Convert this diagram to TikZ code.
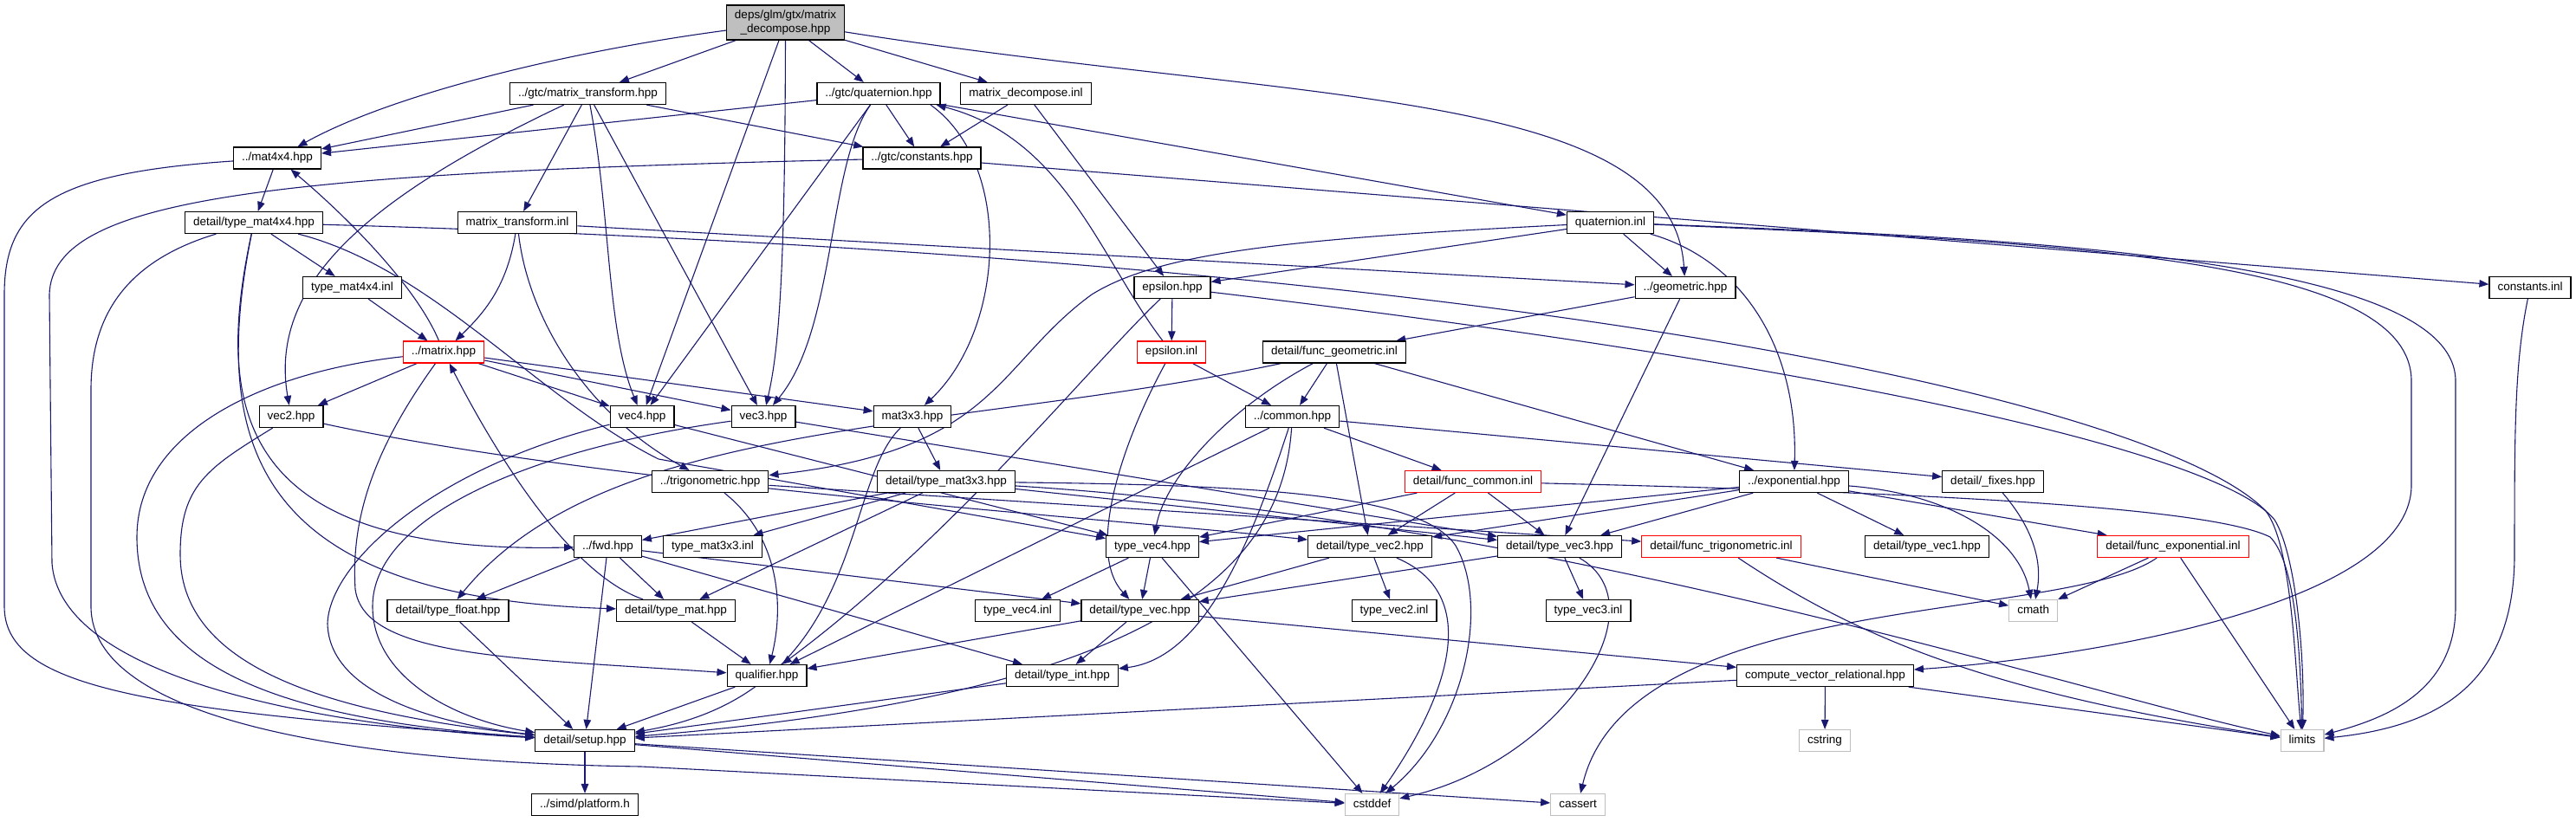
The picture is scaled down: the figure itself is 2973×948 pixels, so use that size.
\documentclass[tikz,border=0pt]{standalone}
\usepackage{fontspec}
\setmainfont{Liberation Sans}
\usetikzlibrary{arrows.meta}
\definecolor{edgec}{HTML}{191970}
\definecolor{greyl}{HTML}{BFBFBF}
\pgfdeclarelayer{back}
\pgfdeclarelayer{edgelayer}
\pgfsetlayers{back,edgelayer,main}
\begin{document}
\begin{tikzpicture}[x=1pt,y=-1pt,
  nb/.style={draw=black, fill=white, line width=1.2pt, inner xsep=9.5pt, inner ysep=0pt,
     minimum height=25pt, font=\fontsize{13.5}{15.5}\selectfont, text height=9.8pt, text depth=2.9pt},
  rb/.style={nb, draw=red},
  gb/.style={nb, draw=greyl},
  rootb/.style={draw=black, fill=greyl, line width=1.2pt, inner xsep=9.5pt, inner ysep=0pt,
     minimum height=40pt, align=center, font=\fontsize{13.5}{15.5}\selectfont},
  edg/.style={draw=edgec, line width=1.1pt, -{Triangle[length=11pt,width=8.5pt]}}]
\begin{pgfonlayer}{back}
\fill[white] (0,0) rectangle (2973,948);
\end{pgfonlayer}
\useasboundingbox (0,0) rectangle (2973,948);
% nodes
\node[rootb] (root) at (906.5,26) {deps/glm/gtx/matrix\\\_decompose.hpp};
\node[nb] (mtrans) at (678.5,108) {../gtc/matrix\_transform.hpp};
\node[nb] (quat) at (1014,108) {../gtc/quaternion.hpp};
\node[nb] (mdinl) at (1184,108) {matrix\_decompose.inl};
\node[nb] (mat4) at (320,182.5) {../mat4x4.hpp};
\node[nb] (consth) at (1064,182.5) {../gtc/constants.hpp};
\node[nb] (tm44) at (293,257) {detail/type\_mat4x4.hpp};
\node[nb] (mtinl) at (597,257) {matrix\_transform.inl};
\node[nb] (quatinl) at (1858.5,257) {quaternion.inl};
\node[nb] (tm44inl) at (406.5,332) {type\_mat4x4.inl};
\node[nb] (epsh) at (1353,332) {epsilon.hpp};
\node[nb] (geom) at (1945,332) {../geometric.hpp};
\node[nb] (constinl) at (2920,332) {constants.inl};
\node[rb] (matrix) at (512,406.5) {../matrix.hpp};
\node[rb] (epsinl) at (1352,406.5) {epsilon.inl};
\node[nb] (fgeom) at (1540,406.5) {detail/func\_geometric.inl};
\node[nb] (vec2) at (336,481) {vec2.hpp};
\node[nb] (vec4) at (741,481) {vec4.hpp};
\node[nb] (vec3) at (881,481) {vec3.hpp};
\node[nb] (mat3) at (1053,481) {mat3x3.hpp};
\node[nb] (common) at (1491.5,481) {../common.hpp};
\node[nb] (trig) at (819.6,556) {../trigonometric.hpp};
\node[nb] (tm33) at (1092,556) {detail/type\_mat3x3.hpp};
\node[rb] (fcommon) at (1700,556) {detail/func\_common.inl};
\node[nb] (expo) at (2070.5,556) {../exponential.hpp};
\node[nb] (fixes) at (2300,556) {detail/\_fixes.hpp};
\node[nb] (fwd) at (701.5,631) {../fwd.hpp};
\node[nb] (tm33inl) at (822.5,631) {type\_mat3x3.inl};
\node[nb] (tv4) at (1330,631) {type\_vec4.hpp};
\node[nb] (tv2) at (1581,631) {detail/type\_vec2.hpp};
\node[nb] (tv3) at (1800,631) {detail/type\_vec3.hpp};
\node[rb] (ftrig) at (1986.5,631) {detail/func\_trigonometric.inl};
\node[nb] (tv1) at (2224,631) {detail/type\_vec1.hpp};
\node[rb] (fexp) at (2508,631) {detail/func\_exponential.inl};
\node[nb] (tfloat) at (517,705) {detail/type\_float.hpp};
\node[nb] (tmat) at (780,705) {detail/type\_mat.hpp};
\node[nb] (tv4inl) at (1174.5,705) {type\_vec4.inl};
\node[nb] (tvec) at (1315.6,705) {detail/type\_vec.hpp};
\node[nb] (tv2inl) at (1609,705) {type\_vec2.inl};
\node[nb] (tv3inl) at (1833,705) {type\_vec3.inl};
\node[gb] (cmath) at (2346.6,705) {cmath};
\node[nb] (qual) at (885,780) {qualifier.hpp};
\node[nb] (tint) at (1226,780) {detail/type\_int.hpp};
\node[nb] (cvr) at (2106.5,780) {compute\_vector\_relational.hpp};
\node[nb] (setup) at (675,855) {detail/setup.hpp};
\node[gb] (cstring) at (2106,855) {cstring};
\node[gb] (limits) at (2657,855) {limits};
\node[nb] (platform) at (675,929) {../simd/platform.h};
\node[gb] (cstddef) at (1583.5,929) {cstddef};
\node[gb] (cassert) at (1821,929) {cassert};
% edges
\begin{pgfonlayer}{edgelayer}
% root
\draw[edg] (root) -- (mtrans);
\draw[edg] (root) .. controls (650,60) and (450,110) .. (mat4);
\draw[edg] (root) -- (vec4);
\draw[edg] (root) .. controls (906,300) and (900,400) .. (vec3);
\draw[edg] (root) -- (quat);
\draw[edg] (root) -- (mdinl);
\draw[edg] (root) .. controls (1500,120) and (1930,100) .. (geom);
% matrix_transform.hpp
\draw[edg] (mtrans) -- (mat4);
\draw[edg] (mtrans) .. controls (420,230) and (310,330) .. (vec2);
\draw[edg] (mtrans) -- (mtinl);
\draw[edg] (mtrans) .. controls (705,250) and (700,380) .. (vec4);
\draw[edg] (mtrans) -- (vec3);
\draw[edg] (mtrans) -- (consth);
% matrix_transform.inl
\draw[edg] (mtinl) .. controls (585,330) and (560,360) .. (matrix);
\draw[edg] (mtinl) .. controls (610,370) and (680,480) .. (trig);
\draw[edg] (mtinl) -- (geom);
% quaternion.hpp
\draw[edg] (quat) -- (mat4);
\draw[edg] (quat) -- (vec4);
\draw[edg] (quat) .. controls (955,190) and (965,380) .. (vec3);
\draw[edg] (quat) -- (consth);
\draw[edg] ([xshift=60pt]quat.south) .. controls (1170,190) and (1160,380) .. (mat3);
\draw[edg] (quat) -- (quatinl);
% epsilon.inl
\draw[edg] (epsinl) .. controls (1270,300) and (1230,160) .. ([xshift=-5pt]quat.south east);
\draw[edg] (epsinl) -- (common);
\draw[edg] (epsinl) .. controls (1290,520) and (1255,640) .. (tvec);
% matrix_decompose.inl
\draw[edg] (mdinl) -- (consth);
\draw[edg] (mdinl) -- (epsh);
% constants
\draw[edg] (consth) .. controls (300,200) and (60,230) .. (57,340) -- (60,650) .. controls (70,790) and (400,840) .. (setup);
\draw[edg] (consth) -- (constinl);
\draw[edg] (constinl) .. controls (2902,420) and (2902,500) .. (2902,640) .. controls (2902,800) and (2800,840) .. (limits);
% mat4x4
\draw[edg] (mat4) -- (tm44);
\draw[edg] (mat4) .. controls (60,200) and (5,240) .. (5,340) -- (5,700) .. controls (5,790) and (150,820) .. (setup);
% type_mat4x4
\draw[edg] (tm44) -- (tm44inl);
\draw[edg] (tm44) .. controls (245,480) and (280,640) .. (fwd);
\draw[edg] (tm44) .. controls (240,520) and (300,690) .. (tmat);
\draw[edg] (tm44) .. controls (500,310) and (620,460) .. (760,530) -- (tv4);
\draw[edg] (tm44) .. controls (1800,300) and (2500,470) .. (2615,590) .. controls (2645,630) and (2648,760) .. (limits);
\draw[edg] (tm44) .. controls (150,300) and (105,360) .. (105,450) -- (105,700) .. controls (105,830) and (400,880) .. (740,885) -- (cstddef);
\draw[edg] (tm44inl) -- (matrix);
% matrix.hpp
\draw[edg] (matrix) .. controls (480,330) and (400,250) .. (mat4);
\draw[edg] (matrix) -- (vec2);
\draw[edg] (matrix) -- (vec4);
\draw[edg] (matrix) -- (vec3);
\draw[edg] (matrix) -- (mat3);
\draw[edg] (matrix) .. controls (300,430) and (158,500) .. (158,620) .. controls (158,760) and (300,830) .. (setup);
\draw[edg] (matrix) .. controls (430,520) and (405,600) .. (410,680) .. controls (420,760) and (600,760) .. (qual);
\draw[edg] (tmat) .. controls (650,660) and (560,500) .. (matrix);
% vecN
\draw[edg] (vec2) .. controls (700,560) and (1300,600) .. (tv2);
\draw[edg] (vec2) .. controls (240,540) and (208,560) .. (208,640) .. controls (208,760) and (350,820) .. (setup);
\draw[edg] (vec4) -- (tv4);
\draw[edg] (vec4) .. controls (500,540) and (380,650) .. (378,720) .. controls (380,800) and (500,835) .. (setup);
\draw[edg] (vec3) -- (tv3);
\draw[edg] (vec3) .. controls (600,520) and (430,600) .. (430,700) .. controls (430,780) and (520,830) .. (setup);
% mat3x3
\draw[edg] (mat3) -- (tm33);
\draw[edg] (mat3) .. controls (970,560) and (1000,800) .. (setup);
\draw[edg] (tm33) -- (tm33inl);
\draw[edg] (tm33) -- (fwd);
\draw[edg] (tm33) -- (tmat);
\draw[edg] (tm33) -- (tv3);
\draw[edg] (tm33) .. controls (1800,600) and (2400,800) .. (limits);
\draw[edg] (tm33) .. controls (1450,560) and (1640,570) .. (1680,630) .. controls (1720,700) and (1690,840) .. (cstddef);
% trigonometric
\draw[edg] (trig) -- (ftrig);
\draw[edg] (trig) .. controls (900,620) and (905,700) .. (qual);
% epsilon.hpp
\draw[edg] (epsh) -- (epsinl);
\draw[edg] (epsh) .. controls (1260,420) and (1100,620) .. (qual);
\draw[edg] (epsh) .. controls (2100,420) and (2560,520) .. (2625,600) .. controls (2650,640) and (2660,760) .. (limits);
% quaternion.inl
\draw[edg] (quatinl) .. controls (1500,275) and (1340,290) .. (1260,340) .. controls (1150,420) and (1150,520) .. (trig);
\draw[edg] (quatinl) -- (epsh);
\draw[edg] (quatinl) -- (geom);
\draw[edg] (quatinl) .. controls (2010,300) and (2075,400) .. (expo);
\draw[edg] (quatinl) .. controls (2350,275) and (2834,300) .. (2834,440) -- (2834,700) .. controls (2834,800) and (2750,830) .. (limits);
\draw[edg] (quatinl) .. controls (2400,280) and (2783,300) .. (2783,440) -- (2783,560) .. controls (2783,700) and (2400,760) .. (cvr);
% geometric
\draw[edg] (geom) -- (fgeom);
\draw[edg] (geom) -- (tv3);
\draw[edg] (fgeom) -- (common);
\draw[edg] (fgeom) -- (expo);
\draw[edg] (fgeom) -- (tv2);
\draw[edg] (fgeom) .. controls (1420,470) and (1345,550) .. (tv4);
\draw[edg] (fgeom) .. controls (1100,500) and (700,480) .. (tfloat);
% common
\draw[edg] (common) -- (fcommon);
\draw[edg] (common) -- (fixes);
\draw[edg] (common) -- (qual);
\draw[edg] (common) .. controls (1440,640) and (1386,760) .. (tint);
\draw[edg] (common) .. controls (1480,650) and (1350,800) .. (setup);
\draw[edg] (fcommon) -- (tv2);
\draw[edg] (fcommon) -- (tv3);
\draw[edg] (fcommon) -- (tv4);
\draw[edg] (fcommon) .. controls (2300,570) and (2560,590) .. (2620,620) .. controls (2650,650) and (2655,760) .. (limits);
% exponential
\draw[edg] (expo) -- (tv1);
\draw[edg] (expo) -- (tv2);
\draw[edg] (expo) -- (tv3);
\draw[edg] (expo) -- (tv4);
\draw[edg] (expo) -- (fexp);
\draw[edg] (expo) .. controls (2250,570) and (2330,620) .. (cmath);
\draw[edg] (fixes) .. controls (2355,620) and (2355,660) .. (cmath);
\draw[edg] (ftrig) -- (cmath);
\draw[edg] (ftrig) .. controls (2150,740) and (2300,800) .. (limits);
\draw[edg] (fexp) -- (cmath);
\draw[edg] (fexp) -- (limits);
\draw[edg] (fexp) .. controls (2380,720) and (1880,680) .. (cassert);
% fwd
\draw[edg] (fwd) -- (tfloat);
\draw[edg] (fwd) -- (tmat);
\draw[edg] (fwd) -- (setup);
\draw[edg] (fwd) -- (tint);
\draw[edg] (fwd) -- (tvec);
% type_vecN
\draw[edg] (tv4) -- (tv4inl);
\draw[edg] (tv4) -- (tvec);
\draw[edg] (tv4) -- (cstddef);
\draw[edg] (tv2) -- (tv2inl);
\draw[edg] (tv2) -- (tvec);
\draw[edg] (tv2) .. controls (1720,690) and (1660,820) .. (cstddef);
\draw[edg] (tv3) -- (tv3inl);
\draw[edg] (tv3) -- (tvec);
\draw[edg] (tv3) .. controls (1920,700) and (1800,880) .. (cstddef);
\draw[edg] (tvec) -- (qual);
\draw[edg] (tvec) -- (tint);
\draw[edg] (tvec) -- (cvr);
% bottom
\draw[edg] (tint) -- (setup);
\draw[edg] (qual) -- (setup);
\draw[edg] (tfloat) -- (setup);
\draw[edg] (tmat) -- (qual);
\draw[edg] (cvr) -- (cstring);
\draw[edg] (cvr) -- (limits);
\draw[edg] (cvr) -- (setup);
\draw[edg] (setup) -- (platform);
\draw[edg] (setup) -- (cstddef);
\draw[edg] (setup) -- (cassert);
\end{pgfonlayer}
\end{tikzpicture}
\end{document}
